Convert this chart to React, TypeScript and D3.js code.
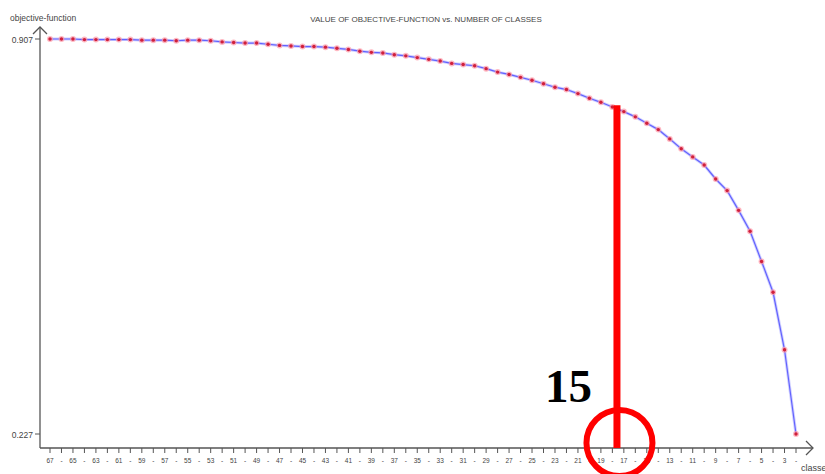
import React from "react";
import * as d3 from "d3";

const classes: number[] = d3.range(67, 1, -1);
const objectiveValues: number[] = [
  0.907, 0.907, 0.907, 0.906, 0.906, 0.906, 0.906, 0.906, 0.905, 0.905,
  0.905, 0.904, 0.905, 0.905, 0.904, 0.902, 0.901, 0.900, 0.900, 0.898,
  0.896, 0.895, 0.894, 0.894, 0.893, 0.891, 0.889, 0.886, 0.884, 0.883,
  0.880, 0.878, 0.875, 0.872, 0.869, 0.865, 0.863, 0.861, 0.856, 0.850,
  0.846, 0.841, 0.836, 0.830, 0.824, 0.820, 0.813, 0.805, 0.798, 0.790,
  0.782, 0.773, 0.762, 0.751, 0.735, 0.718, 0.704, 0.690, 0.666, 0.646,
  0.612, 0.576, 0.524, 0.471, 0.372, 0.227,
];
const yTickValues: number[] = [0.907, 0.227];
const title = "VALUE OF OBJECTIVE-FUNCTION vs. NUMBER OF CLASSES";
const yLabel = "objective-function";
const xLabel = "classes";
const annotationLabel = "15";
const annotationClass = 17.6;
const annotationTop = 0.793;

export default function App() {
  const W = 825, H = 474;
  const x = d3.scaleLinear().domain([67, 2]).range([50, 796]);
  const y = d3.scaleLinear().domain([0.227, 0.907]).range([434, 39]);
  const axisY = 448;
  const axisX = 40;
  const axisColor = "#555";
  const textColor = "#444";
  const data = classes.map((c, i) => ({ c, v: objectiveValues[i] }));
  const line = d3.line<{ c: number; v: number }>().x(d => x(d.c)).y(d => y(d.v));
  const ax = x(annotationClass);

  return (
    <svg width={W} height={H} style={{ position: "absolute", left: 0, top: 0, background: "#fff" }}
      fontFamily="'Liberation Sans', Arial, sans-serif">
      <rect x={0} y={0} width={W} height={H} fill="#fff" />
      {/* title */}
      <text x={426} y={22} fontSize={8} fill={textColor} textAnchor="middle">{title}</text>
      {/* y axis */}
      <line x1={axisX} y1={axisY} x2={axisX} y2={27} stroke={axisColor} strokeWidth={1.3} />
      <polyline points={`${axisX - 7},34 ${axisX},27 ${axisX + 7},34`} fill="none" stroke={axisColor} strokeWidth={1.3} />
      <text x={10} y={21} fontSize={8.5} fill={textColor}>{yLabel}</text>
      {yTickValues.map(t => (
        <g key={t}>
          <line x1={axisX - 5} x2={axisX} y1={y(t)} y2={y(t)} stroke={axisColor} strokeWidth={1} />
          <text x={axisX - 7} y={y(t) + 4} fontSize={8.5} fill={textColor} textAnchor="end">{d3.format(".3f")(t)}</text>
        </g>
      ))}
      {/* x axis */}
      <line x1={axisX} y1={axisY} x2={813} y2={axisY} stroke={axisColor} strokeWidth={1.3} />
      <polyline points={`806,${axisY - 7} 813,${axisY} 806,${axisY + 7}`} fill="none" stroke={axisColor} strokeWidth={1.3} />
      {classes.map(c => (
        <g key={c}>
          <line x1={x(c)} x2={x(c)} y1={axisY} y2={axisY + 5} stroke={axisColor} strokeWidth={1} />
          <text x={x(c)} y={axisY + 15} fontSize={6.5} fill={textColor} textAnchor="middle">{c % 2 === 1 ? String(c) : "-"}</text>
        </g>
      ))}
      <text x={801} y={471} fontSize={9} fill={textColor}>{xLabel}</text>
      {/* data line */}
      <path d={line(data) || ""} fill="none" stroke="#7878ff" strokeWidth={3} strokeOpacity={0.35} />
      <path d={line(data) || ""} fill="none" stroke="#6262ff" strokeWidth={1.2} />
      {data.map(d => (
        <g key={d.c}>
          <circle cx={x(d.c)} cy={y(d.v)} r={3} fill="#ff9aa8" fillOpacity={0.7} />
          <circle cx={x(d.c)} cy={y(d.v)} r={1.7} fill="#d0203a" />
        </g>
      ))}
      {/* annotation */}
      <line x1={ax} x2={ax} y1={y(annotationTop)} y2={axisY} stroke="#ff0000" strokeWidth={7} />
      <circle cx={ax + 2.5} cy={443} r={33} fill="none" stroke="#ff0000" strokeWidth={6} />
      <text x={ax - 25} y={402} fontSize={47} fontWeight="bold" fontFamily="'Liberation Serif', 'Times New Roman', serif"
        fill="#000" textAnchor="end">{annotationLabel}</text>
    </svg>
  );
}
